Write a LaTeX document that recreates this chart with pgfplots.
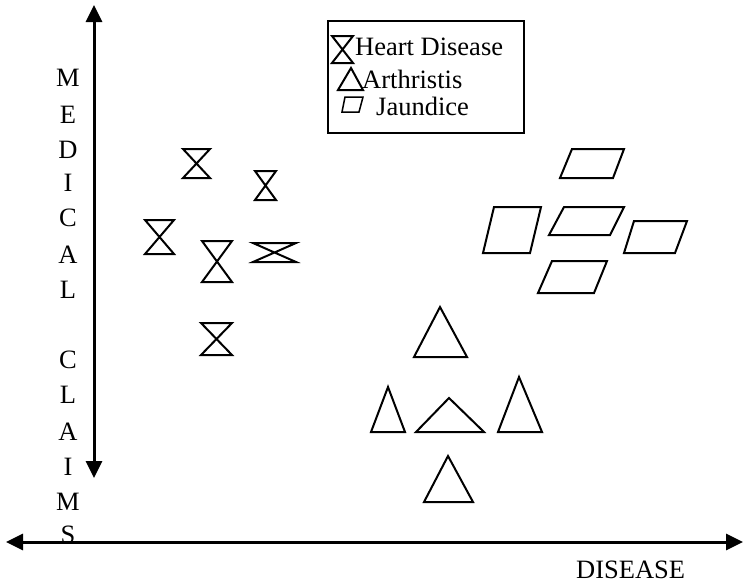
\documentclass[border=0pt]{standalone}
\usepackage{pgfplots}
\pgfplotsset{compat=1.18}
\usepackage{fontspec}
\setmainfont{Liberation Serif}
\usetikzlibrary{arrows.meta}
\tikzset{shp/.style={black,line width=2pt,mark=none},
  lett/.style={font=\fontsize{26.5}{31}\selectfont,inner sep=0pt}}
\begin{document}
\begin{tikzpicture}
\useasboundingbox (0,0) rectangle (743pt,584pt);
\begin{axis}[at={(0,0)},anchor=south west,scale only axis,width=743pt,height=584pt,
  xmin=0,xmax=743,ymin=0,ymax=584,y dir=reverse,hide axis,clip=false]
% axes arrows
\addplot[black,line width=3pt,mark=none,{Triangle[length=17pt,width=16pt]}-{Triangle[length=17pt,width=16pt]}] coordinates {(94,5) (94,478)};
\addplot[black,line width=3pt,mark=none,{Triangle[length=17pt,width=16pt]}-{Triangle[length=17pt,width=16pt]}] coordinates {(6,542) (743,542)};
% Heart Disease (hourglasses)
\addplot[shp] coordinates {(183,149)(210,149)(183,178)(210,178)} -- cycle;
\addplot[shp] coordinates {(255,171)(276,171)(255,200)(276,200)} -- cycle;
\addplot[shp] coordinates {(145,220)(174,220)(145,254)(174,254)} -- cycle;
\addplot[shp] coordinates {(202,241)(232,241)(202,282)(232,282)} -- cycle;
\addplot[shp] coordinates {(253,243)(296,243)(253,262)(296,262)} -- cycle;
\addplot[shp] coordinates {(201,323)(232,323)(201,355)(232,355)} -- cycle;
% Arthristis (triangles)
\addplot[shp] coordinates {(440,307)(467,357)(414,357)} -- cycle;
\addplot[shp] coordinates {(388,387)(405,432)(371,432)} -- cycle;
\addplot[shp] coordinates {(449,398)(484,432)(416,432)} -- cycle;
\addplot[shp] coordinates {(519,377)(542,432)(498,432)} -- cycle;
\addplot[shp] coordinates {(448,456)(473,502)(424,502)} -- cycle;
% Jaundice (parallelograms)
\addplot[shp] coordinates {(572,149)(624,149)(613,178)(560,178)} -- cycle;
\addplot[shp] coordinates {(494,207)(541,207)(530,253)(483,253)} -- cycle;
\addplot[shp] coordinates {(564,207)(624,207)(610,235)(549,235)} -- cycle;
\addplot[shp] coordinates {(634,221)(687,221)(675,253)(624,253)} -- cycle;
\addplot[shp] coordinates {(552,261)(607,261)(594,293)(538,293)} -- cycle;
% legend
\draw[black,line width=1.5pt] (axis cs:328,21) rectangle (axis cs:524,133);
\draw[black,line width=2pt] (axis cs:332,36) -- (axis cs:353,36) -- (axis cs:332,63) -- (axis cs:353,63) -- cycle;
\draw[black,line width=2pt] (axis cs:351,68) -- (axis cs:363,90) -- (axis cs:338,90) -- cycle;
\draw[black,line width=1.5pt] (axis cs:345,97) -- (axis cs:363,97) -- (axis cs:359,112) -- (axis cs:342,112) -- cycle;
\node[lett,anchor=base west] at (axis cs:355,55) {Heart Disease};
\node[lett,anchor=base west] at (axis cs:362,88) {Arthristis};
\node[lett,anchor=base west] at (axis cs:376,115) {Jaundice};
% axis labels
\node[lett,anchor=base west] at (axis cs:576,578) {DISEASE};
\node[lett] at (axis cs:68,78) {M};
\node[lett] at (axis cs:68,115) {E};
\node[lett] at (axis cs:68,150) {D};
\node[lett] at (axis cs:68,183) {I};
\node[lett] at (axis cs:68,218) {C};
\node[lett] at (axis cs:68,255) {A};
\node[lett] at (axis cs:68,290) {L};
\node[lett] at (axis cs:68,360) {C};
\node[lett] at (axis cs:68,395) {L};
\node[lett] at (axis cs:68,432) {A};
\node[lett] at (axis cs:68,467) {I};
\node[lett] at (axis cs:68,502) {M};
\node[lett] at (axis cs:68,535) {S};
\end{axis}
\end{tikzpicture}
\end{document}
